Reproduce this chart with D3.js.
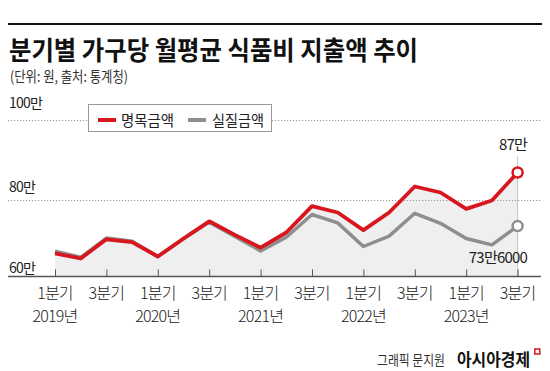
<!DOCTYPE html>
<html><head><meta charset="utf-8">
<script src="https://d3js.org/d3.v7.min.js"></script>
<style>
body{margin:0;background:#fff;}
svg{display:block;font-family:"Noto Sans CJK KR","Noto Sans",sans-serif;}
</style></head>
<body><svg id="c" width="550" height="371"></svg>
<script>
const quarters = ["2019Q1","2019Q2","2019Q3","2019Q4","2020Q1","2020Q2","2020Q3","2020Q4","2021Q1","2021Q2","2021Q3","2021Q4","2022Q1","2022Q2","2022Q3","2022Q4","2023Q1","2023Q2","2023Q3"];
const tickLabels = [["1분기","2019년"],["3분기"],["1분기","2020년"],["3분기"],["1분기","2021년"],["3분기"],["1분기","2022년"],["3분기"],["1분기","2023년"],["3분기"]];
// 만원
const nominal = [66.8,65.5,70.3,69.6,66.0,70.5,74.8,71.4,68.2,72.0,78.6,77.0,72.6,77.0,83.5,82.0,77.9,80.0,87.0];
const real    = [67.3,65.8,70.6,69.8,66.0,70.4,74.6,71.0,67.4,70.8,76.5,74.4,68.5,71.1,76.8,74.3,70.5,68.9,73.6];
const yTicks = [60,80,100];
const yTickLabels = ["60만","80만","100만"];
const endLabels = ["87만","73만6000"];
const seriesNames = ["명목금액","실질금액"];

const RED="#d7161e", GRAY="#8e8e8e";
const svg=d3.select("#c");
const x=d3.scalePoint().domain(quarters).range([55,517.6]);
const y=d3.scaleLinear().domain([60,100]).range([280.5,120.5]);
const axisY=276.5;

// top rule
svg.append("line").attr("x1",8).attr("x2",542).attr("y1",24).attr("y2",24).attr("stroke","#111").attr("stroke-width",2);
svg.append("text").attr("x",9).attr("y",59.5).attr("font-size",26).attr("font-weight",700).attr("fill","#111")
  .attr("textLength",409).attr("lengthAdjust","spacingAndGlyphs").text("분기별 가구당 월평균 식품비 지출액 추이");
svg.append("text").attr("x",10).attr("y",82).attr("font-size",14.5).attr("fill","#333")
  .attr("textLength",118).attr("lengthAdjust","spacingAndGlyphs").text("(단위: 원, 출처: 통계청)");

// area
const area=d3.area().x((d,i)=>x(quarters[i])).y0(axisY).y1(d=>y(d));
svg.append("path").datum(nominal).attr("d",area).attr("fill","#efefef");

// gridlines
svg.append("g").selectAll("line").data(yTicks.filter(v=>v>60)).join("line")
  .attr("x1",8).attr("x2",541).attr("y1",d=>y(d)).attr("y2",d=>y(d))
  .attr("stroke","#999").attr("stroke-width",1).attr("stroke-dasharray","1.2,1.8");
const yOff={60:null,80:-9,100:-13};
svg.append("g").selectAll("text").data(yTicks).join("text")
  .attr("x",9).attr("y",d=>d===60?axisY-4:y(d)+yOff[d]).attr("font-size",14).attr("fill","#222")
  .attr("letter-spacing",-0.8).text((d,i)=>yTickLabels[i]);

// end leader line
const lastQ=quarters[quarters.length-1];
svg.append("line").attr("x1",x(lastQ)).attr("x2",x(lastQ)).attr("y1",156).attr("y2",axisY).attr("stroke","#c4c4c4").attr("stroke-width",1);

// axis
const ax=d3.axisBottom(x).tickValues(quarters.filter((q,i)=>i%2===0)).tickSize(-7).tickFormat("");
const axg=svg.append("g").attr("transform",`translate(0,${axisY})`).call(ax);
axg.select(".domain").remove();
axg.selectAll(".tick line").attr("stroke","#555").attr("stroke-width",1);
svg.append("line").attr("x1",8).attr("x2",541).attr("y1",axisY).attr("y2",axisY).attr("stroke","#555").attr("stroke-width",1.6);
const tq=quarters.filter((q,i)=>i%2===0);
tickLabels.forEach((lab,i)=>{
  const t=svg.append("text").attr("text-anchor","middle").attr("font-size",16).attr("font-weight",300).attr("fill","#222").attr("letter-spacing",-0.8);
  lab.forEach((s,j)=>t.append("tspan").attr("x",x(tq[i])).attr("y",299+j*23).text(s));
});

// lines
const line=d3.line().x((d,i)=>x(quarters[i])).y(d=>y(d));
svg.append("path").datum(real).attr("d",line).attr("fill","none").attr("stroke",GRAY).attr("stroke-width",3.5).attr("stroke-linejoin","round");
svg.append("path").datum(nominal).attr("d",line).attr("fill","none").attr("stroke",RED).attr("stroke-width",3.8).attr("stroke-linejoin","round");

// end circles
[[nominal,RED],[real,GRAY]].forEach(([s,c])=>{
  svg.append("circle").attr("cx",x(lastQ)).attr("cy",y(s[s.length-1])).attr("r",5).attr("fill","#fff").attr("stroke",c).attr("stroke-width",2.5);
});
svg.append("text").attr("x",527).attr("y",y(nominal[18])-23).attr("text-anchor","end").attr("font-size",15).attr("fill","#222").attr("letter-spacing",-0.8).text(endLabels[0]);
svg.append("text").attr("x",527).attr("y",y(real[18])+37).attr("text-anchor","end").attr("font-size",15).attr("fill","#222").attr("letter-spacing",-0.8).text(endLabels[1]);

// legend
const lg=svg.append("g");
lg.append("rect").attr("x",88.5).attr("y",104.5).attr("width",183).attr("height",27).attr("fill","#fff").attr("stroke","#999").attr("stroke-width",1);
lg.append("line").attr("x1",98).attr("x2",116).attr("y1",120).attr("y2",120).attr("stroke",RED).attr("stroke-width",4);
lg.append("text").attr("x",121).attr("y",126).attr("font-size",15).attr("fill","#222")
  .attr("textLength",53).attr("lengthAdjust","spacingAndGlyphs").text(seriesNames[0]);
lg.append("line").attr("x1",188).attr("x2",206).attr("y1",120).attr("y2",120).attr("stroke",GRAY).attr("stroke-width",4);
lg.append("text").attr("x",212).attr("y",126).attr("font-size",15).attr("fill","#222")
  .attr("textLength",52).attr("lengthAdjust","spacingAndGlyphs").text(seriesNames[1]);

// credit
svg.append("text").attr("x",377).attr("y",364.5).attr("font-size",13.5).attr("fill","#333")
  .attr("textLength",68).attr("lengthAdjust","spacingAndGlyphs").text("그래픽 문지원");
svg.append("text").attr("x",457).attr("y",365.5).attr("font-size",17).attr("font-weight",700).attr("fill","#111")
  .attr("textLength",73).attr("lengthAdjust","spacingAndGlyphs").text("아시아경제");
svg.append("rect").attr("x",534.8).attr("y",349).attr("width",5).attr("height",5).attr("fill","none").attr("stroke",RED).attr("stroke-width",1.5);
</script></body></html>
